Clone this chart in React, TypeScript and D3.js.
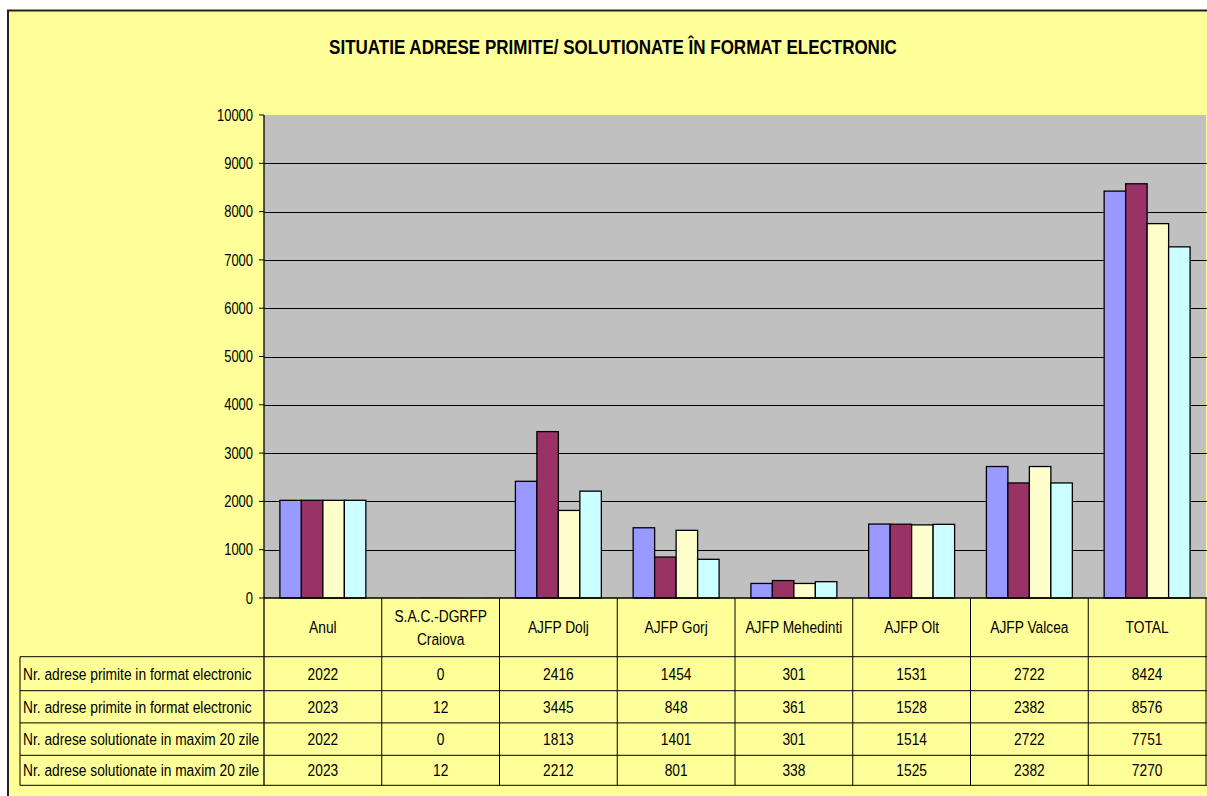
import React from "react";
import * as d3 from "d3";

const categories = ["Anul", "S.A.C.-DGRFP\nCraiova", "AJFP Dolj", "AJFP Gorj", "AJFP Mehedinti", "AJFP Olt", "AJFP Valcea", "TOTAL"];
const seriesNames = [
  "Nr. adrese primite in format electronic",
  "Nr. adrese primite in format electronic",
  "Nr. adrese solutionate in maxim 20 zile",
  "Nr. adrese solutionate in maxim 20 zile",
];
const s1 = [2022, 0, 2416, 1454, 301, 1531, 2722, 8424];
const s2 = [2023, 12, 3445, 848, 361, 1528, 2382, 8576];
const s3 = [2022, 0, 1813, 1401, 301, 1514, 2722, 7751];
const s4 = [2023, 12, 2212, 801, 338, 1525, 2382, 7270];
const yTicks = [0, 1000, 2000, 3000, 4000, 5000, 6000, 7000, 8000, 9000, 10000];
const colors = ["#9999FF", "#993366", "#FFFFCC", "#CCFFFF"];
const title = "SITUATIE ADRESE PRIMITE/ SOLUTIONATE ÎN FORMAT ELECTRONIC";

const series = [s1, s2, s3, s4];

const SX = 0.81;

function T(props: { x: number; y: number; anchor?: string; size: number; bold?: boolean; sx?: number; children: React.ReactNode }) {
  const { x, y, anchor = "start", size, bold, sx = SX, children } = props;
  return (
    <text
      transform={`translate(${x},${y}) scale(${sx},1)`}
      textAnchor={anchor as any}
      dy="0.35em"
      fontSize={size}
      fontWeight={bold ? "bold" : "normal"}
      fill="#000"
    >
      {children}
    </text>
  );
}

export default function App() {
  const W = 1207, H = 796;
  const plotL = 264, plotR = 1206, plotT = 115, plotB = 598;
  const x = d3.scaleBand<string>().domain(categories).range([plotL, plotR]).paddingInner(0).paddingOuter(0);
  const inner = d3.scaleBand<number>().domain([0, 1, 2, 3]).range([0, x.bandwidth()]).paddingInner(0).paddingOuter(0.74);
  const y = d3.scaleLinear().domain([0, 10000]).range([plotB, plotT]);
  const rowBounds = [656.7, 690.7, 722.9, 755.3, 785.3];
  const tableL = 20;
  const font = "Liberation Sans, Arial, sans-serif";

  return (
    <svg width={W} height={H} style={{ position: "absolute", left: 0, top: 0, background: "#fff" }} fontFamily={font}>
      <rect x={8} y={10.5} width={1300} height={900} fill="#FFFF99" stroke="#222" strokeWidth={2} />
      <T x={613} y={47} anchor="middle" size={21} bold>{title}</T>
      {/* plot area */}
      <rect x={plotL} y={plotT} width={plotR - plotL} height={plotB - plotT} fill="#C0C0C0" />
      {yTicks.filter(t => t > 0 && t < 10000).map(t => (
        <line key={t} x1={plotL} x2={plotR + 2} y1={Math.round(y(t)) + 0.5} y2={Math.round(y(t)) + 0.5} stroke="#000" strokeWidth={1} />
      ))}
      {/* bars */}
      {categories.map((c, ci) => (
        <g key={c}>
          {series.map((s, si) => {
            const v = s[ci];
            if (v <= 0) return null;
            const bx = (x(c) as number) + (inner(si) as number);
            const h = plotB - y(v);
            return <rect key={si} x={bx} y={y(v)} width={inner.bandwidth()} height={h} fill={colors[si]} stroke={h > 2 ? "#000" : "none"} strokeWidth={1.3} />;
          })}
        </g>
      ))}
      {/* y axis */}
      <line x1={plotL} x2={plotL} y1={plotT} y2={rowBounds[4]} stroke="#000" strokeWidth={1.3} />
      {yTicks.map(t => (
        <g key={t}>
          <line x1={plotL - 5} x2={plotL} y1={y(t)} y2={y(t)} stroke="#000" strokeWidth={1} />
          <T x={plotL - 11} y={y(t)} anchor="end" size={16}>{t}</T>
        </g>
      ))}
      {/* table */}
      <line x1={plotL} x2={plotR + 2} y1={plotB} y2={plotB} stroke="#000" strokeWidth={1.3} />
      {rowBounds.map((rb, i) => (
        <line key={i} x1={tableL} x2={plotR + 2} y1={rb} y2={rb} stroke="#000" strokeWidth={1} />
      ))}
      <line x1={tableL} x2={tableL} y1={rowBounds[0]} y2={rowBounds[4]} stroke="#000" strokeWidth={1} />
      {categories.map((c) => (
        <line key={"v" + c} x1={(x(c) as number) + x.bandwidth()} x2={(x(c) as number) + x.bandwidth()} y1={plotB} y2={rowBounds[4]} stroke="#000" strokeWidth={1} />
      ))}
      {categories.map((c) => {
        const lines = c.split("\n");
        const cx = (x(c) as number) + x.bandwidth() / 2;
        const cy = (plotB + rowBounds[0]) / 2;
        return (
          <g key={"h" + c}>
            {lines.map((ln, li) => (
              <T key={li} x={cx} y={cy + (li - (lines.length - 1) / 2) * 23} anchor="middle" size={17}>{ln}</T>
            ))}
          </g>
        );
      })}
      {series.map((s, si) => {
        const cy = (rowBounds[si] + rowBounds[si + 1]) / 2;
        return (
          <g key={"r" + si}>
            <T x={tableL + 3} y={cy} size={17}>{seriesNames[si]}</T>
            {categories.map((c, ci) => (
              <T key={c} x={(x(c) as number) + x.bandwidth() / 2} y={cy} anchor="middle" size={17}>{s[ci]}</T>
            ))}
          </g>
        );
      })}
    </svg>
  );
}
